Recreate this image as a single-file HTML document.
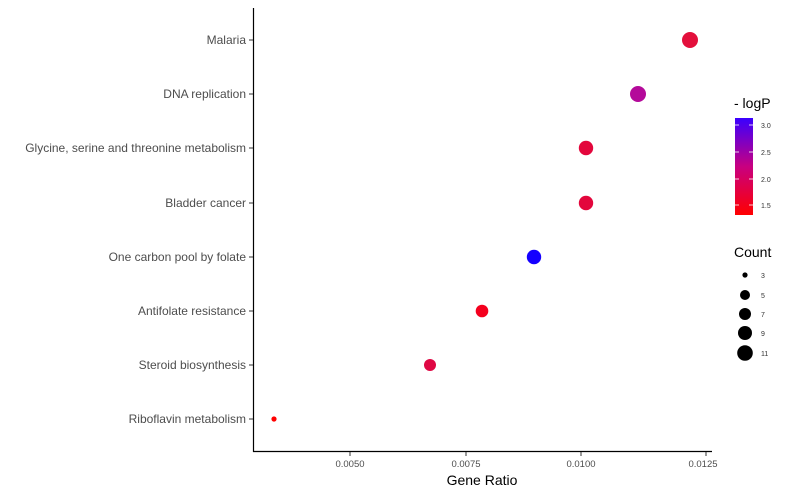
<!DOCTYPE html>
<html><head><style>body{margin:0;background:#fff}svg{display:block;font-family:"Liberation Sans",sans-serif}</style></head>
<body>
<svg width="790" height="494" viewBox="0 0 790 494">
<defs><linearGradient id="g" x1="0" y1="1" x2="0" y2="0">
<stop offset="0" stop-color="#ff0000"/><stop offset="0.5" stop-color="#c80080"/><stop offset="1" stop-color="#3a00ff"/></linearGradient></defs>
<line x1="253.5" y1="8" x2="253.5" y2="452" stroke="#000" stroke-width="1.2"/>
<line x1="253" y1="451.5" x2="712" y2="451.5" stroke="#000" stroke-width="1.2"/>
<g font-size="12" fill="#4d4d4d" text-anchor="end">
<text x="246" y="44">Malaria</text>
<text x="246" y="98">DNA replication</text>
<text x="246" y="152">Glycine, serine and threonine metabolism</text>
<text x="246" y="207">Bladder cancer</text>
<text x="246" y="261">One carbon pool by folate</text>
<text x="246" y="315">Antifolate resistance</text>
<text x="246" y="369">Steroid biosynthesis</text>
<text x="246" y="423">Riboflavin metabolism</text>
</g>
<g stroke="#333" stroke-width="1">
<line x1="249" y1="40" x2="253" y2="40"/><line x1="249" y1="94" x2="253" y2="94"/><line x1="249" y1="148" x2="253" y2="148"/><line x1="249" y1="203" x2="253" y2="203"/><line x1="249" y1="257" x2="253" y2="257"/><line x1="249" y1="311" x2="253" y2="311"/><line x1="249" y1="365" x2="253" y2="365"/><line x1="249" y1="419" x2="253" y2="419"/>
<line x1="350" y1="452" x2="350" y2="456"/><line x1="466" y1="452" x2="466" y2="456"/><line x1="581" y1="452" x2="581" y2="456"/><line x1="706" y1="452" x2="706" y2="456"/>
</g>
<g font-size="9.5" fill="#4d4d4d" text-anchor="middle">
<text x="350" y="467">0.0050</text><text x="466" y="467">0.0075</text><text x="581" y="467">0.0100</text><text x="703" y="467">0.0125</text>
</g>
<text x="482" y="485" font-size="14" text-anchor="middle" fill="#000">Gene Ratio</text>
<circle cx="690" cy="40" r="8" fill="#e3103c"/>
<circle cx="638" cy="94" r="8" fill="#b40a9a"/>
<circle cx="586" cy="148" r="7.2" fill="#e3063c"/>
<circle cx="586" cy="203" r="7.2" fill="#e3063c"/>
<circle cx="534" cy="257" r="7.2" fill="#1500ff"/>
<circle cx="482" cy="311" r="6.3" fill="#f4001e"/>
<circle cx="430" cy="365" r="6" fill="#df0844"/>
<circle cx="274" cy="419" r="2.6" fill="#ff0000"/>
<text x="734" y="108" font-size="14" fill="#000">- logP</text>
<rect x="735" y="118" width="18" height="97" fill="url(#g)"/>
<g stroke="#fff" stroke-width="0.8"><line x1="735" y1="125" x2="739" y2="125"/><line x1="749" y1="125" x2="753" y2="125"/><line x1="735" y1="152" x2="739" y2="152"/><line x1="749" y1="152" x2="753" y2="152"/><line x1="735" y1="179" x2="739" y2="179"/><line x1="749" y1="179" x2="753" y2="179"/><line x1="735" y1="205" x2="739" y2="205"/><line x1="749" y1="205" x2="753" y2="205"/></g>
<g font-size="7" fill="#333"><text x="761" y="128">3.0</text><text x="761" y="155">2.5</text><text x="761" y="182">2.0</text><text x="761" y="208">1.5</text></g>
<text x="734" y="257" font-size="14" fill="#000">Count</text>
<circle cx="745" cy="275" r="2.6" fill="#000"/>
<circle cx="745" cy="295" r="5" fill="#000"/>
<circle cx="745" cy="314" r="6" fill="#000"/>
<circle cx="745" cy="333" r="7" fill="#000"/>
<circle cx="745" cy="353" r="7.8" fill="#000"/>
<g font-size="7" fill="#333"><text x="761" y="278">3</text><text x="761" y="298">5</text><text x="761" y="317">7</text><text x="761" y="336">9</text><text x="761" y="356">11</text></g>
</svg>
</body></html>
